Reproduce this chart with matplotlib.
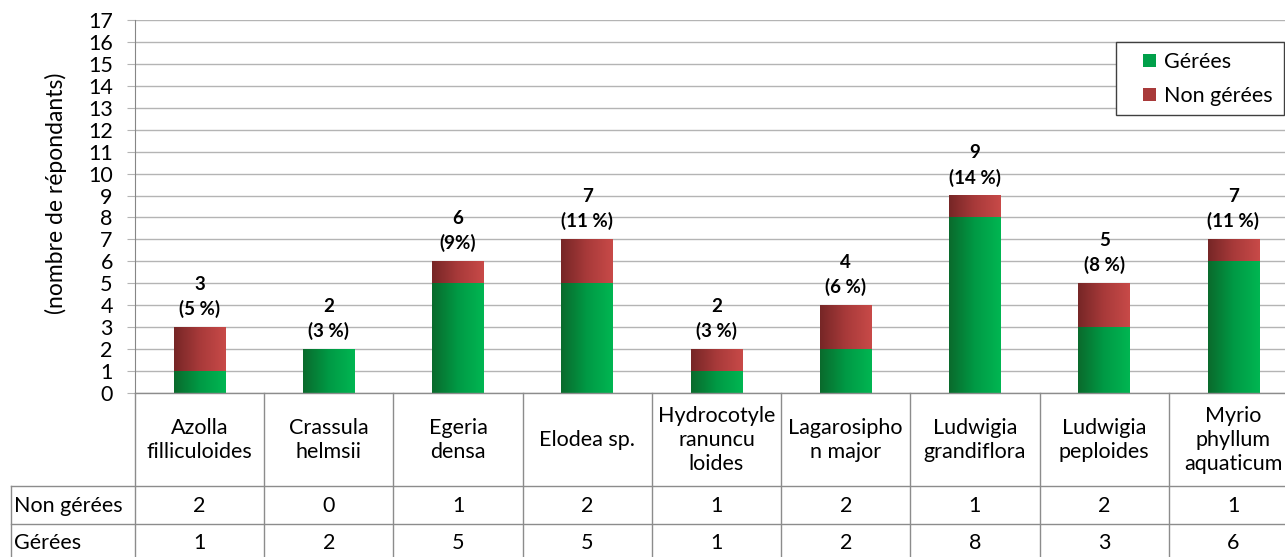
import numpy as np
import matplotlib
matplotlib.use("Agg")
import matplotlib.pyplot as plt
from matplotlib.colors import LinearSegmentedColormap
from matplotlib.lines import Line2D
from matplotlib.patches import Patch, Rectangle
from matplotlib.transforms import blended_transform_factory

species = ["Azolla\nfilliculoides", "Crassula\nhelmsii", "Egeria\ndensa", "Elodea sp.",
           "Hydrocotyle\nranuncu\nloides", "Lagarosipho\nn major", "Ludwigia\ngrandiflora",
           "Ludwigia\npeploides", "Myrio\nphyllum\naquaticum"]
gerees = [1, 2, 5, 5, 1, 2, 8, 3, 6]
non_gerees = [2, 0, 1, 2, 1, 2, 1, 2, 1]
pct_labels = ["(5 %)", "(3 %)", "(9%)", "(11 %)", "(3 %)", "(6 %)", "(14 %)", "(8 %)", "(11 %)"]

plt.rcParams["font.family"] = ["Lato", "DejaVu Sans"]
FS = 15.5

W, H = 1285, 557
fig = plt.figure(figsize=(W / 100, H / 100), dpi=100, facecolor="white")
ax = fig.add_axes([135 / W, 1 - 393 / H, 1163 / W, 373 / H])

green_cm = LinearSegmentedColormap.from_list("g", ["#0a6a2c", "#009a45", "#00b652"])
red_cm = LinearSegmentedColormap.from_list("r", ["#762626", "#a83a3a", "#c84a48"])
grad = np.linspace(0, 1, 256).reshape(1, -1)

x = np.arange(len(species))
b1 = ax.bar(x, gerees, width=0.4, color="none", zorder=3)
b2 = ax.bar(x, non_gerees, width=0.4, bottom=gerees, color="none", zorder=3)
for bars, cm in ((b1, green_cm), (b2, red_cm)):
    for r in bars:
        if r.get_height() <= 0:
            continue
        x0, y0 = r.get_x(), r.get_y()
        ax.imshow(grad, cmap=cm, extent=(x0, x0 + r.get_width(), y0, y0 + r.get_height()),
                  aspect="auto", zorder=3, interpolation="bilinear")

totals = [g + n for g, n in zip(gerees, non_gerees)]
for xi, t, p in zip(x, totals, pct_labels):
    ax.annotate(p, (xi, t), xytext=(0, 13), textcoords="offset points", ha="center",
                va="center", fontsize=13.5, fontweight="bold")
    ax.annotate(str(t), (xi, t), xytext=(0, 31), textcoords="offset points", ha="center",
                va="center", fontsize=13.5, fontweight="bold")

ax.set_xlim(-0.5, len(species) - 0.5)
ax.set_ylim(0, 17)
ax.set_yticks(range(0, 18))
ax.yaxis.grid(True, color="#b4b4b4", lw=1)
ax.set_axisbelow(True)
for s in ("top", "right", "bottom"):
    ax.spines[s].set_visible(False)
ax.spines["left"].set_color("#868686")
ax.tick_params(axis="y", length=6, color="#b4b4b4", labelsize=FS, pad=10)
ax.tick_params(axis="x", length=0, labelbottom=False)

fig.text(56 / W, 1 - 193 / H, "(nombre de répondants)", rotation=90, ha="center",
         va="center", fontsize=16.5)

# table under the chart
tr = blended_transform_factory(ax.transData, fig.transFigure)
lc = "#8c8c8c"
fig.add_artist(Line2D([-0.5, len(species) - 0.5], [1 - 393 / H] * 2, transform=tr, color=lc, lw=1))
for yy in (486, 524):
    fig.add_artist(Line2D([11 / W, 1], [1 - yy / H] * 2, transform=fig.transFigure, color=lc, lw=1))
fig.add_artist(Line2D([11 / W] * 2, [1 - 486 / H, 0], transform=fig.transFigure, color=lc, lw=1))
for i in range(len(species) + 1):
    fig.add_artist(Line2D([i - 0.5] * 2, [1 - 393 / H, 0], transform=tr, color=lc, lw=1))

for xi, name, n, g in zip(x, species, non_gerees, gerees):
    fig.text(xi, 1 - 440 / H, name, transform=tr, ha="center", va="center", fontsize=FS,
             linespacing=1.25)
    fig.text(xi, 1 - 506 / H, str(n), transform=tr, ha="center", va="center", fontsize=FS)
    fig.text(xi, 1 - 543 / H, str(g), transform=tr, ha="center", va="center", fontsize=FS)
fig.text(14 / W, 1 - 506 / H, "Non gérées", ha="left", va="center", fontsize=FS)
fig.text(14 / W, 1 - 543 / H, "Gérées", ha="left", va="center", fontsize=FS)

# legend with a hand-placed frame
fig.add_artist(Rectangle((1116 / W, 1 - 115 / H), 168 / W, 73 / H, transform=fig.transFigure,
                         facecolor="white", edgecolor="#404040", lw=1, zorder=4))
handles = [Patch(facecolor="#00a04a", label="Gérées"), Patch(facecolor="#a83a3a", label="Non gérées")]
leg = fig.legend(handles=handles, loc="center left", bbox_to_anchor=(1132 / W, 1 - 79 / H),
                 fontsize=FS, frameon=False, handlelength=0.6, handleheight=0.6,
                 handletextpad=0.4, labelspacing=0.65, borderpad=0)
leg.set_zorder(5)

fig.savefig("out.png", dpi=100, facecolor="white")
